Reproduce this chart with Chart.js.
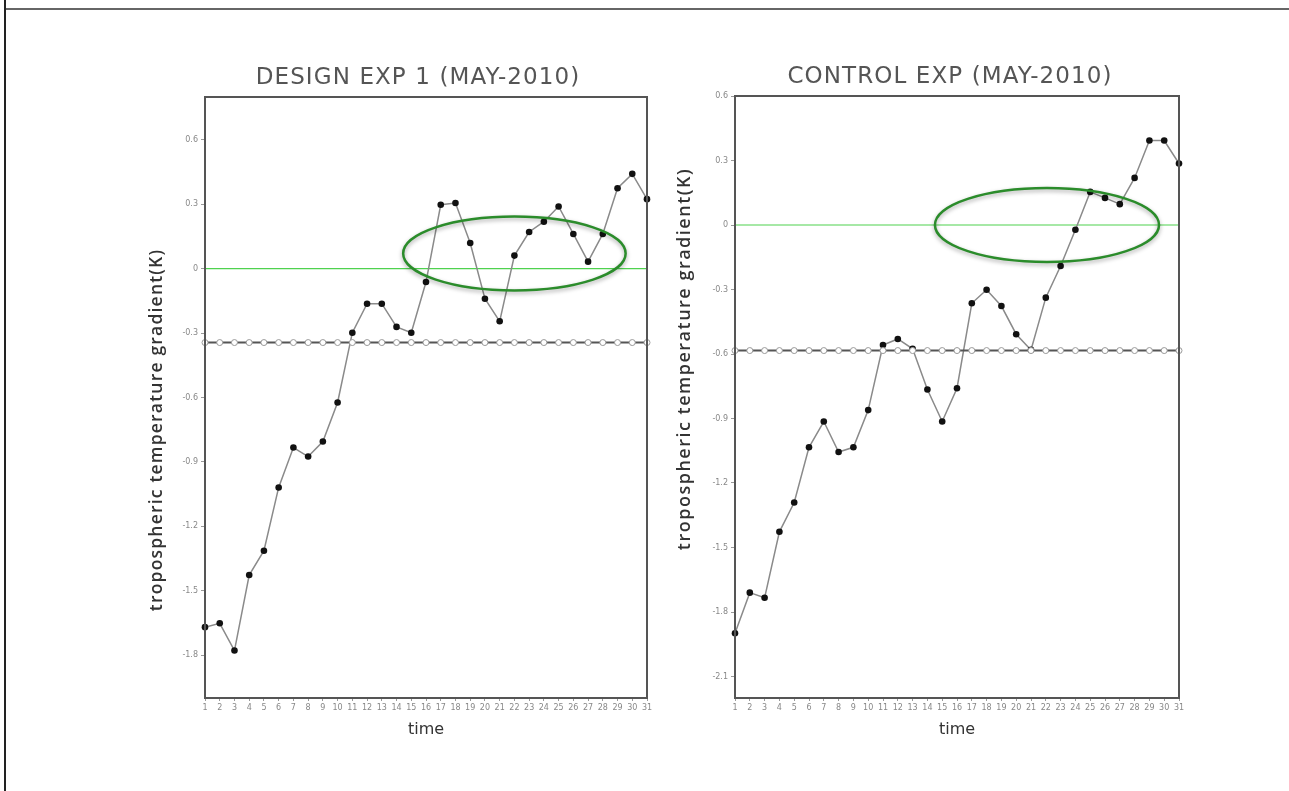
<!DOCTYPE html>
<html>
<head>
<meta charset="utf-8">
<title>Tropospheric temperature gradient, May 2010</title>
<script src="https://cdn.jsdelivr.net/npm/chart.js@4.4.1/dist/chart.umd.min.js"></script>
<style>
    html, body { margin: 0; padding: 0; background: #fff; }
    body { width: 1289px; height: 791px; position: relative; overflow: hidden; }
    .frame-top { position: absolute; left: 5px; top: 8px; width: 1284px; height: 2px; background: #666; }
    .frame-left { position: absolute; left: 4px; top: 0; width: 2px; height: 791px; background: #222; }
    .panel { position: absolute; top: 40px; width: 560px; height: 720px; }
    #designPanel { left: 100px; }
    #controlPanel { left: 660px; }
</style>
</head>
<body>
<div class="frame-top"></div>
<div class="frame-left"></div>
<div class="panel" id="designPanel"><canvas id="design-chart" width="560" height="720"></canvas></div>
<div class="panel" id="controlPanel"><canvas id="control-chart" width="560" height="720"></canvas></div>

<script>
// Days of May 2010
const days = ['1', '2', '3', '4', '5', '6', '7', '8', '9', '10', '11', '12', '13', '14', '15', '16',
              '17', '18', '19', '20', '21', '22', '23', '24', '25', '26', '27', '28', '29', '30', '31'];

// DESIGN EXP 1 - daily gradient (K)
const designValues = [-1.670, -1.652, -1.779, -1.427, -1.314, -1.019, -0.833, -0.875, -0.805, -0.623,
                      -0.298, -0.163, -0.163, -0.271, -0.298, -0.062, 0.298, 0.306, 0.120, -0.140,
                      -0.245, 0.061, 0.171, 0.219, 0.290, 0.162, 0.033, 0.162, 0.375, 0.442, 0.324];

// DESIGN EXP 1 - reference level (open circles)
const designReference = [-0.344, -0.344, -0.344, -0.344, -0.344, -0.344, -0.344, -0.344, -0.344, -0.344,
                         -0.344, -0.344, -0.344, -0.344, -0.344, -0.344, -0.344, -0.344, -0.344, -0.344,
                         -0.344, -0.344, -0.344, -0.344, -0.344, -0.344, -0.344, -0.344, -0.344, -0.344, -0.344];

// CONTROL EXP - daily gradient (K)
const controlValues = [-1.899, -1.710, -1.734, -1.427, -1.291, -1.034, -0.914, -1.056, -1.034, -0.861,
                       -0.558, -0.530, -0.576, -0.765, -0.914, -0.759, -0.364, -0.301, -0.377, -0.508,
                       -0.581, -0.338, -0.191, -0.022, 0.154, 0.126, 0.097, 0.219, 0.393, 0.393, 0.286];

// CONTROL EXP - reference level (open circles)
const controlReference = [-0.584, -0.584, -0.584, -0.584, -0.584, -0.584, -0.584, -0.584, -0.584, -0.584,
                          -0.584, -0.584, -0.584, -0.584, -0.584, -0.584, -0.584, -0.584, -0.584, -0.584,
                          -0.584, -0.584, -0.584, -0.584, -0.584, -0.584, -0.584, -0.584, -0.584, -0.584, -0.584];

// Y tick labels and axis ranges
const designTicks = [0.6, 0.3, 0, -0.3, -0.6, -0.9, -1.2, -1.5, -1.8];
const controlTicks = [0.6, 0.3, 0, -0.3, -0.6, -0.9, -1.2, -1.5, -1.8, -2.1];
const designRange = [-2.0, 0.8];
const controlRange = [-2.2, 0.6];

const yAxisLabel = 'tropospheric temperature gradient(K)';

/**
 * Extra drawing: green zero line, highlight ellipse, plot frame,
 * spaced-out title and rotated y label
 */
const panelExtras = {
    id: 'panelExtras',
    beforeDatasetsDraw(chart, args, opts) {
        const { ctx, chartArea: area, scales: { y } } = chart;
        const yZero = y.getPixelForValue(0);
        ctx.save();
        ctx.strokeStyle = '#4fd24f';
        ctx.lineWidth = 1.2;
        ctx.beginPath();
        ctx.moveTo(area.left, yZero);
        ctx.lineTo(area.right, yZero);
        ctx.stroke();
        ctx.restore();
    },
    afterDatasetsDraw(chart, args, opts) {
        const { ctx, chartArea: area, scales: { x, y } } = chart;
        const h = opts.highlight;

        // Highlight ellipse, placed in data units
        const cx = x.getPixelForValue(h.day - 1);
        const cy = y.getPixelForValue(h.value);
        const rx = Math.abs(x.getPixelForValue(h.day - 1 + h.halfDays) - cx);
        const ry = Math.abs(y.getPixelForValue(h.value + h.halfValue) - cy);
        ctx.save();
        ctx.shadowColor = 'rgba(0, 0, 0, 0.35)';
        ctx.shadowBlur = 4;
        ctx.shadowOffsetY = 2;
        ctx.strokeStyle = '#2b8c2b';
        ctx.lineWidth = 2.5;
        ctx.beginPath();
        ctx.ellipse(cx, cy, rx, ry, 0, 0, Math.PI * 2);
        ctx.stroke();
        ctx.restore();

        // Plot frame
        ctx.save();
        ctx.strokeStyle = '#555';
        ctx.lineWidth = 2;
        ctx.strokeRect(area.left, area.top, area.width, area.height);
        ctx.restore();
    },
    afterDraw(chart, args, opts) {
        const { ctx } = chart;

        // Title
        ctx.save();
        ctx.font = '23px "DejaVu Sans"';
        ctx.letterSpacing = '1.1px';
        ctx.fillStyle = '#555';
        ctx.textAlign = 'center';
        ctx.textBaseline = 'middle';
        ctx.fillText(opts.title, opts.titleX, opts.titleY);
        ctx.restore();

        // Y axis label
        ctx.save();
        ctx.translate(opts.labelX, opts.labelY);
        ctx.rotate(-Math.PI / 2);
        ctx.font = opts.labelFont;
        ctx.letterSpacing = opts.labelSpacing;
        ctx.fillStyle = '#333';
        ctx.textAlign = 'center';
        ctx.textBaseline = 'middle';
        ctx.fillText(yAxisLabel, 0, 0);
        ctx.restore();
    }
};

function createPanel(canvasId, title, values, reference, ticks, range, setup) {
    const ctx = document.getElementById(canvasId).getContext('2d');

    return new Chart(ctx, {
        type: 'line',
        data: {
            labels: days,
            datasets: [
                {
                    label: 'reference',
                    data: reference,
                    borderColor: '#555',
                    borderWidth: 2,
                    tension: 0,
                    pointRadius: 3,
                    pointBackgroundColor: '#ffffff',
                    pointBorderColor: '#999',
                    pointBorderWidth: 1
                },
                {
                    label: title,
                    data: values,
                    borderColor: '#8a8a8a',
                    borderWidth: 1.5,
                    tension: 0,
                    pointRadius: 3.3,
                    pointBackgroundColor: '#111',
                    pointBorderColor: '#111',
                    pointBorderWidth: 0
                }
            ]
        },
        options: {
            responsive: false,
            animation: false,
            layout: {
                padding: { left: setup.padLeft, right: setup.padRight, top: setup.padTop, bottom: 12 }
            },
            plugins: {
                legend: { display: false },
                tooltip: { enabled: false },
                title: { display: false },
                panelExtras: {
                    title: title,
                    titleX: setup.titleX,
                    titleY: setup.titleY,
                    highlight: setup.highlight,
                    labelX: setup.labelX,
                    labelY: setup.labelY,
                    labelFont: setup.labelFont,
                    labelSpacing: setup.labelSpacing
                }
            },
            scales: {
                x: {
                    offset: false,
                    grid: { drawOnChartArea: false, drawTicks: true, tickLength: 3, color: '#999' },
                    border: { display: false },
                    ticks: {
                        autoSkip: false,
                        maxRotation: 0,
                        minRotation: 0,
                        padding: 2,
                        color: '#888',
                        font: { family: 'DejaVu Sans', size: 8 }
                    },
                    title: {
                        display: true,
                        text: 'time',
                        color: '#333',
                        font: { family: 'DejaVu Sans', size: 16 },
                        padding: { top: 0, bottom: 9 }
                    },
                    afterFit: scale => { scale.height = 50; }
                },
                y: {
                    min: range[0],
                    max: range[1],
                    afterBuildTicks: scale => {
                        scale.ticks = ticks.map(v => ({ value: v }));
                    },
                    grid: { drawOnChartArea: false, tickLength: 4, color: '#999' },
                    border: { display: false },
                    ticks: {
                        padding: 3,
                        color: '#888',
                        font: { family: 'DejaVu Sans', size: 8 },
                        callback: v => String(v)
                    },
                    afterFit: scale => { scale.width = 40; }
                }
            }
        },
        plugins: [panelExtras]
    });
}

createPanel('design-chart', 'DESIGN EXP 1 (MAY-2010)', designValues, designReference, designTicks, designRange, {
    padLeft: 65, padRight: 13, padTop: 57,
    titleX: 318, titleY: 38,
    highlight: { day: 22.0, value: 0.071, halfDays: 7.55, halfValue: 0.172 },
    labelX: 57, labelY: 390, labelFont: '600 17.5px "Open Sans"', labelSpacing: '1.2px'
});

createPanel('control-chart', 'CONTROL EXP (MAY-2010)', controlValues, controlReference, controlTicks, controlRange, {
    padLeft: 35, padRight: 41, padTop: 56,
    titleX: 290, titleY: 37.5,
    highlight: { day: 22.08, value: 0.0, halfDays: 7.57, halfValue: 0.172 },
    labelX: 25, labelY: 319, labelFont: '600 18px "Open Sans"', labelSpacing: '1.5px'
});
</script>
</body>
</html>
